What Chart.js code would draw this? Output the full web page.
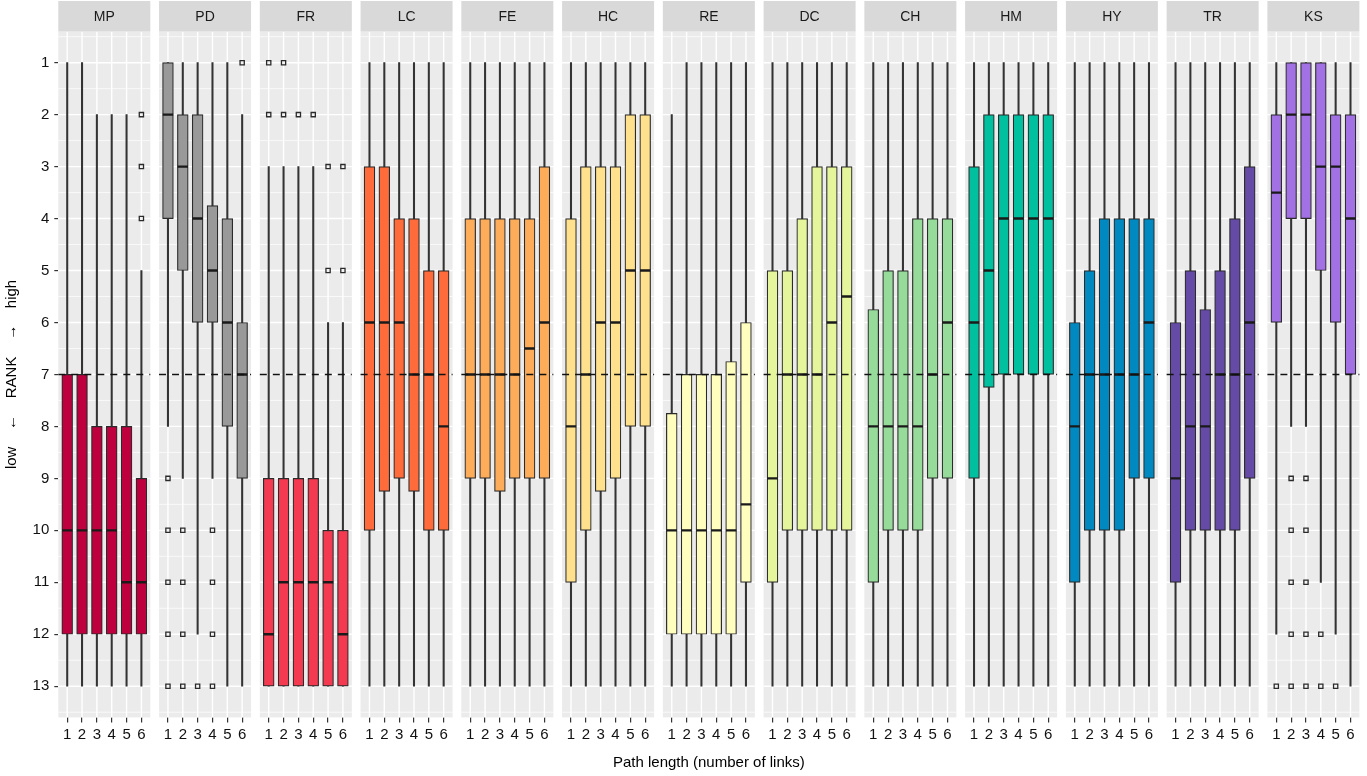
<!DOCTYPE html>
<html>
<head>
<meta charset="utf-8">
<script src="https://cdn.jsdelivr.net/npm/chart.js@4.4.1/dist/chart.umd.min.js"></script>
<style>
  html, body { margin: 0; padding: 0; background: #fff; }
  canvas { display: block; }
</style>
</head>
<body>
<canvas id="rankChart" width="1367" height="776"></canvas>
<script>
// facets and their fill colours
var facets = ['MP', 'PD', 'FR', 'LC', 'FE', 'HC', 'RE', 'DC', 'CH', 'HM', 'HY', 'TR', 'KS'];
var facetColors = ['#BE003F', '#999999', '#F43A50', '#FF6B3A', '#FDAC5A', '#FEE08D', '#FFFEBF',
                   '#E5F59B', '#96DB9A', '#00C0A0', '#0089C0', '#654BA6', '#A271E3'];
var pathLengths = [1, 2, 3, 4, 5, 6];
var rankTicks = [1, 2, 3, 4, 5, 6, 7, 8, 9, 10, 11, 12, 13];
var cutRank = 7;

// box stats per facet (one entry per path length), in rank units
var whiskerLow = [
  [1, 1, 2, 2, 2, 5], [1, 1, 1, 1, 1, 2], [3, 3, 3, 3, 6, 6], [1, 1, 1, 1, 1, 1],
  [1, 1, 1, 1, 1, 1], [1, 1, 1, 1, 1, 1], [2, 1, 1, 1, 1, 1], [1, 1, 1, 1, 1, 1],
  [1, 1, 1, 1, 1, 1], [1, 1, 1, 1, 1, 1], [1, 1, 1, 1, 1, 1], [1, 1, 1, 1, 1, 1],
  [1, 1, 1, 1, 1, 1]
];
var boxLow = [
  [7, 7, 8, 8, 8, 9], [1, 2, 2, 3.75, 4, 6], [9, 9, 9, 9, 10, 10], [3, 3, 4, 4, 5, 5],
  [4, 4, 4, 4, 4, 3], [4, 3, 3, 3, 2, 2], [7.75, 7, 7, 7, 6.75, 6], [5, 5, 4, 3, 3, 3],
  [5.75, 5, 5, 4, 4, 4], [3, 2, 2, 2, 2, 2], [6, 5, 4, 4, 4, 4], [6, 5, 5.75, 5, 4, 3],
  [2, 1, 1, 1, 2, 2]
];
var medians = [
  [10, 10, 10, 10, 11, 11], [2, 3, 4, 5, 6, 7], [12, 11, 11, 11, 11, 12], [6, 6, 6, 7, 7, 8],
  [7, 7, 7, 7, 6.5, 6], [8, 7, 6, 6, 5, 5], [10, 10, 10, 10, 10, 9.5], [9, 7, 7, 7, 6, 5.5],
  [8, 8, 8, 8, 7, 6], [6, 5, 4, 4, 4, 4], [8, 7, 7, 7, 7, 6], [9, 8, 8, 7, 7, 6],
  [3.5, 2, 2, 3, 3, 4]
];
var boxHigh = [
  [12, 12, 12, 12, 12, 12], [4, 5, 6, 6, 8, 9], [13, 13, 13, 13, 13, 13], [10, 9.25, 9, 9.25, 10, 10],
  [9, 9, 9.25, 9, 9, 9], [11, 10, 9.25, 9, 8, 8], [12, 12, 12, 12, 12, 11], [11, 10, 10, 10, 10, 10],
  [11, 10, 10, 10, 9, 9], [9, 7.25, 7, 7, 7, 7], [11, 10, 10, 10, 9, 9], [11, 10, 10, 10, 10, 9],
  [6, 4, 4, 5, 6, 7]
];
var whiskerHigh = [
  [13, 13, 13, 13, 13, 13], [8, 9, 12, 9, 13, 13], [13, 13, 13, 13, 13, 13], [13, 13, 13, 13, 13, 13],
  [13, 13, 13, 13, 13, 13], [13, 13, 13, 13, 13, 13], [13, 13, 13, 13, 13, 13], [13, 13, 13, 13, 13, 13],
  [13, 13, 13, 13, 13, 13], [13, 13, 13, 13, 13, 13], [13, 13, 13, 13, 13, 13], [13, 13, 13, 13, 13, 13],
  [12, 8, 8, 11, 12, 13]
];
// outliers: [facet, path length, rank]
var outliers = [
  ['MP', 6, 2], ['MP', 6, 3], ['MP', 6, 4],
  ['PD', 1, 9], ['PD', 1, 10], ['PD', 1, 11], ['PD', 1, 12], ['PD', 1, 13],
  ['PD', 2, 10], ['PD', 2, 11], ['PD', 2, 12], ['PD', 2, 13],
  ['PD', 3, 13],
  ['PD', 4, 10], ['PD', 4, 11], ['PD', 4, 12], ['PD', 4, 13],
  ['PD', 6, 1],
  ['FR', 1, 1], ['FR', 1, 2], ['FR', 2, 1], ['FR', 2, 2], ['FR', 3, 2], ['FR', 4, 2],
  ['FR', 5, 3], ['FR', 5, 5], ['FR', 6, 3], ['FR', 6, 5],
  ['KS', 1, 13],
  ['KS', 2, 9], ['KS', 2, 10], ['KS', 2, 11], ['KS', 2, 12], ['KS', 2, 13],
  ['KS', 3, 9], ['KS', 3, 10], ['KS', 3, 11], ['KS', 3, 12], ['KS', 3, 13],
  ['KS', 4, 12], ['KS', 4, 13],
  ['KS', 5, 13]
];

// facets sit side by side on one linear x axis
var PANEL_STEP = 6.79;
function xPos(f, p) { return f * PANEL_STEP + p; }
var xMax = (facets.length - 1) * PANEL_STEP + 6.6;

var whiskerData = [], boxData = [], boxColors = [], medianData = [], tickValues = [];
facets.forEach(function(name, f) {
  pathLengths.forEach(function(p, k) {
    var x = xPos(f, p);
    tickValues.push(x);
    whiskerData.push({x: x, y: [whiskerLow[f][k], whiskerHigh[f][k]]});
    boxData.push({x: x, y: [boxLow[f][k], boxHigh[f][k]]});
    boxColors.push(facetColors[f]);
    medianData.push({x: x, y: medians[f][k]});
  });
});
var outlierData = outliers.map(function(o) {
  return {x: xPos(facets.indexOf(o[0]), o[1]), y: o[2]};
});

var FONT = "'Liberation Sans', Arial, Helvetica, sans-serif";

// grey panels, grid lines and strip headers, like ggplot facets
var facetPanels = {
  id: 'facetPanels',
  beforeDatasetsDraw: function(chart) {
    var ctx = chart.ctx, xs = chart.scales.x, ys = chart.scales.y, area = chart.chartArea;
    ctx.save();
    facets.forEach(function(name, f) {
      var left = xs.getPixelForValue(f * PANEL_STEP + 0.4);
      var right = xs.getPixelForValue(f * PANEL_STEP + 6.6);
      ctx.fillStyle = '#EBEBEB';
      ctx.fillRect(left, area.top, right - left, area.bottom - area.top);

      ctx.strokeStyle = '#FFFFFF';
      ctx.lineWidth = 0.7;
      for (var r = 0.5; r <= 13.5; r += 1) {
        var y = ys.getPixelForValue(r);
        ctx.beginPath(); ctx.moveTo(left, y); ctx.lineTo(right, y); ctx.stroke();
      }
      ctx.lineWidth = 1.4;
      rankTicks.forEach(function(r) {
        var y = ys.getPixelForValue(r);
        ctx.beginPath(); ctx.moveTo(left, y); ctx.lineTo(right, y); ctx.stroke();
      });
      pathLengths.forEach(function(p) {
        var x = xs.getPixelForValue(xPos(f, p));
        ctx.beginPath(); ctx.moveTo(x, area.top); ctx.lineTo(x, area.bottom); ctx.stroke();
      });

      // strip
      ctx.fillStyle = '#D9D9D9';
      ctx.fillRect(left, 1, right - left, area.top - 1);
      ctx.fillStyle = '#1A1A1A';
      ctx.font = '14px ' + FONT;
      ctx.textAlign = 'center';
      ctx.textBaseline = 'middle';
      ctx.fillText(name, (left + right) / 2, (area.top + 1) / 2 + 0.5);
    });
    ctx.restore();
  },
  afterDatasetsDraw: function(chart) {
    var ctx = chart.ctx, xs = chart.scales.x, ys = chart.scales.y;
    var y = ys.getPixelForValue(cutRank);
    ctx.save();
    ctx.strokeStyle = '#111111';
    ctx.lineWidth = 1.4;
    ctx.setLineDash([7, 6]);
    facets.forEach(function(name, f) {
      var left = xs.getPixelForValue(f * PANEL_STEP + 0.4);
      var right = xs.getPixelForValue(f * PANEL_STEP + 6.6);
      ctx.beginPath(); ctx.moveTo(left, y); ctx.lineTo(right, y); ctx.stroke();
    });
    ctx.restore();
  }
};

var ctx = document.getElementById('rankChart').getContext('2d');
var rankChart = new Chart(ctx, {
  type: 'bar',
  data: {
    datasets: [
      {
        label: 'whiskers', data: whiskerData, order: 3, grouped: false,
        backgroundColor: '#333333', borderWidth: 0, barThickness: 1.4
      },
      {
        label: 'boxes', data: boxData, order: 2, grouped: false,
        backgroundColor: boxColors, borderColor: '#2B2B2B', borderWidth: 1.2,
        borderSkipped: false, barThickness: 10.8
      },
      {
        type: 'scatter', label: 'medians', data: medianData, order: 1,
        pointStyle: 'line', radius: 5.2, borderColor: '#1A1A1A', borderWidth: 2.4
      },
      {
        type: 'scatter', label: 'outliers', data: outlierData, order: 0,
        pointStyle: 'rect', radius: 3, borderColor: '#2B2B2B', backgroundColor: '#F4F4F4', borderWidth: 1.3
      }
    ]
  },
  options: {
    responsive: false,
    animation: false,
    events: [],
    layout: { padding: { top: 31.5, right: 2.4, left: 0, bottom: 0 } },
    plugins: { legend: { display: false }, tooltip: { enabled: false } },
    scales: {
      x: {
        type: 'linear', min: 0.4, max: xMax, offset: false,
        afterBuildTicks: function(scale) {
          scale.ticks = tickValues.map(function(v) { return {value: v}; });
        },
        afterFit: function(scale) { scale.height = 58.6; },
        ticks: {
          autoSkip: false, maxRotation: 0, padding: 3, color: '#111111',
          font: { family: FONT, size: 15 },
          callback: function(v, i) { return pathLengths[i % pathLengths.length]; }
        },
        grid: { drawOnChartArea: false, offset: false, tickLength: 5, color: '#333333', lineWidth: 1.2 },
        border: { display: false },
        title: {
          display: true, text: 'Path length (number of links)', color: '#000000',
          font: { family: FONT, size: 15 }, padding: { top: 4, bottom: 4 }
        }
      },
      y: {
        type: 'linear', reverse: true, min: 0.4, max: 13.6,
        afterBuildTicks: function(scale) {
          scale.ticks = rankTicks.map(function(v) { return {value: v}; });
        },
        afterFit: function(scale) { scale.width = 58.3; },
        ticks: { padding: 5, color: '#111111', font: { family: FONT, size: 15 } },
        grid: { drawOnChartArea: false, tickLength: 4, color: '#333333', lineWidth: 1.2 },
        border: { display: false },
        title: {
          display: true, text: 'low    \u2190    RANK    \u2192    high', color: '#000000',
          font: { family: FONT, size: 15 }, padding: { top: 3, bottom: 0 }
        }
      }
    }
  },
  plugins: [facetPanels]
});
</script>
</body>
</html>
